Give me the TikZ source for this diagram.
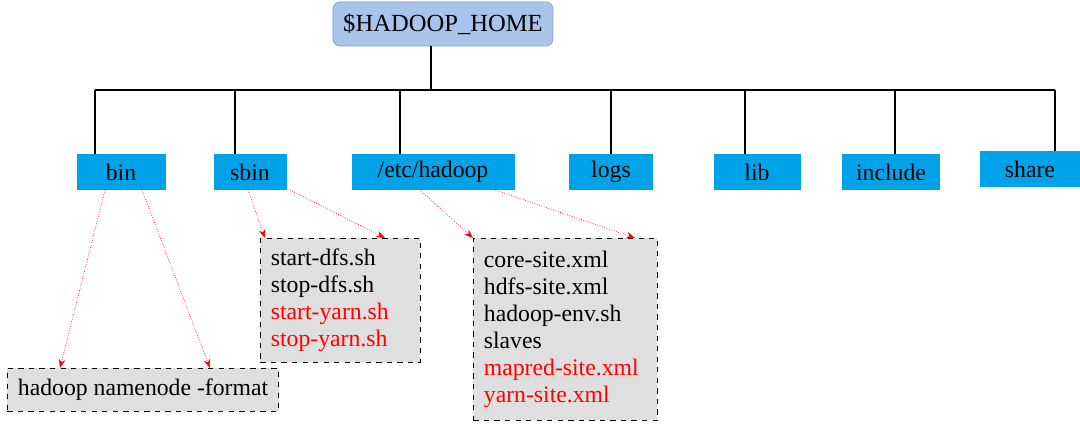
\documentclass[tikz,border=0pt]{standalone}
\usepackage{fontspec}
\setmainfont{Liberation Serif}
\usetikzlibrary{arrows.meta}
\definecolor{dirblue}{HTML}{00A2E8}
\definecolor{topblue}{HTML}{A9C4EB}
\definecolor{topline}{HTML}{7F9FCF}
\tikzset{
	dir/.style={draw=dirblue,fill=dirblue,minimum height=0.7cm,inner sep=0pt,font=\fontsize{13.5}{15}\selectfont},
	files/.style={draw,dashed,fill=gray!25,align=left,anchor=north west,inner xsep=6pt,inner ysep=6pt,font=\fontsize{13.5}{15.3}\selectfont},
	link/.style={red,densely dotted,-{Stealth[length=5pt]}},
	tree/.style={line width=0.9pt},
}
\begin{document}
\begin{tikzpicture}[x=0.02cm,y=-0.02cm]
	\useasboundingbox (0,0) rectangle (1080,428);

	% Root
	\node[draw=topline,fill=topblue,rounded corners=4pt,minimum width=4.4cm,minimum height=0.88cm,font=\fontsize{14}{16}\selectfont] (home) at (443,24) {\$HADOOP\_HOME};
	\coordinate (hub) at (431,90);
	\draw[tree] (home.south -| hub) -- (hub);
	\draw[tree] (95,90) -- (1055,90);

	% Directories
	\node[dir,minimum width=1.76cm] (bin) at (121,172) {bin};
	\node[dir,minimum width=1.44cm] (sbin) at (250,172) {sbin};
	\node[dir,minimum width=3.24cm] (etc) at (433,172) {/etc/hadoop};
	\node[dir,minimum width=1.66cm] (logs) at (611,172) {logs};
	\node[dir,minimum width=1.72cm] (lib) at (757,172) {lib};
	\node[dir,minimum width=1.94cm] (inc) at (891,172) {include};
	\node[dir,minimum width=2.0cm] (share) at (1030,169) {share};

	\foreach \d/\x in {bin/95,sbin/235,etc/400,logs/611,lib/745,inc/895,share/1055}
		\draw[tree] (\x,90) -- (\x,90 |- \d.north);

	% Contents
	\node[files,minimum width=5.36cm] (fmt) at (7,368) {hadoop namenode -format};
	\node[files,text width=2.78cm,minimum height=2.44cm] (scripts) at (260,238) {start-dfs.sh\\stop-dfs.sh\\\textcolor{red}{start-yarn.sh}\\\textcolor{red}{stop-yarn.sh}};
	\node[files,text width=3.26cm,minimum height=3.64cm] (conf) at (473,238) {core-site.xml\\hdfs-site.xml\\hadoop-env.sh\\slaves\\\textcolor{red}{mapred-site.xml}\\\textcolor{red}{yarn-site.xml}};

	\coordinate (b1) at (105,190); \coordinate (b2) at (142,190);
	\coordinate (s1) at (248,190); \coordinate (s2) at (290,190);
	\coordinate (e1) at (420,190); \coordinate (e2) at (495,190);
	\draw[link] (b1) -- (fmt.north west -| 60,0);
	\draw[link] (b2) -- (fmt.north west -| 210,0);
	\draw[link] (s1) -- (scripts.north west -| 265,0);
	\draw[link] (s2) -- (scripts.north west -| 385,0);
	\draw[link] (e1) -- (conf.north west);
	\draw[link] (e2) -- (conf.north west -| 635,0);
\end{tikzpicture}
\end{document}
